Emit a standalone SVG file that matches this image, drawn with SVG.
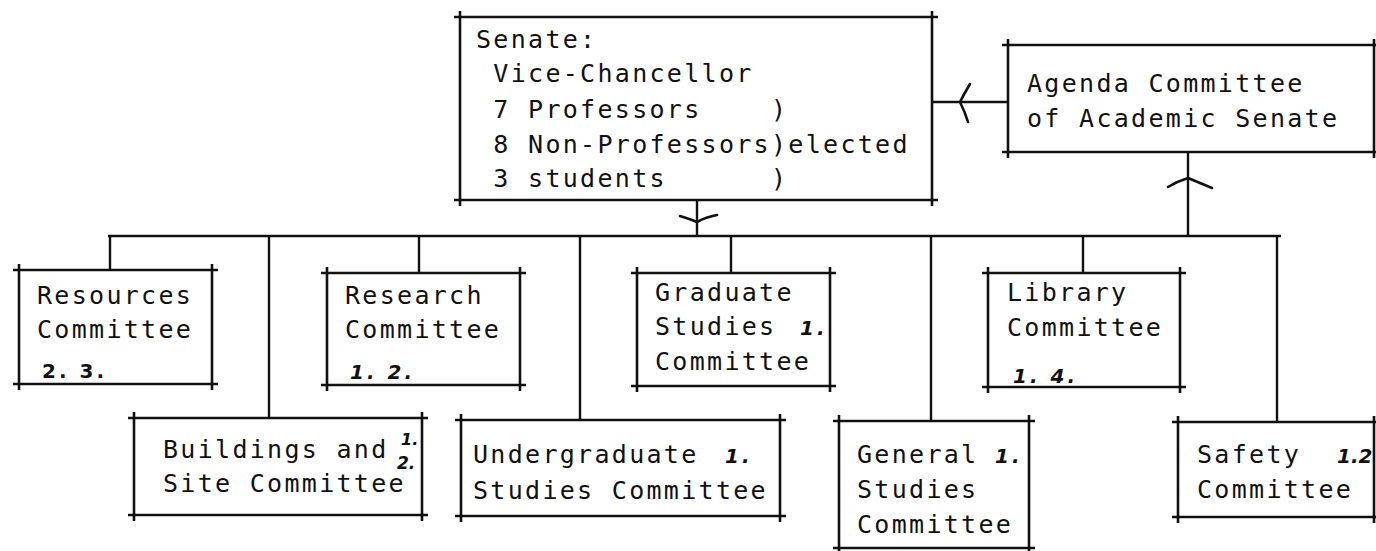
<svg xmlns="http://www.w3.org/2000/svg" width="1376" height="551" viewBox="0 0 1376 551">
<style>
.box{fill:none;stroke:#111;stroke-width:2.6}
.ln{fill:none;stroke:#111;stroke-width:2.4}
.ah{fill:none;stroke:#111;stroke-width:2.6;stroke-linecap:round}
.t{font-family:"DejaVu Sans Mono",monospace;font-size:25px;letter-spacing:2.3px;fill:#111;white-space:pre}
.hw{font-family:"DejaVu Sans",sans-serif;font-size:20px;font-weight:bold;font-style:italic;letter-spacing:3px;fill:#111;white-space:pre}
</style>
<rect width="1376" height="551" fill="#fff"/>
<g id="connectors">
<path class="ln" d="M108 236 H1281"/>
<path class="ln" d="M110 236 V270 M269 236 V418 M419 236 V273 M580 236 V420 M731 236 V273 M931 236 V421 M1083 236 V273 M1277 236 V422"/>
<path class="ln" d="M697 200 V236"/>
<path class="ah" d="M680 216 Q690 219 697 222 Q706 217 717 215"/>
<path class="ln" d="M1188 236 V152"/>
<path class="ah" d="M1168 187 Q1178 181 1188 178 Q1200 183 1212 188"/>
<path class="ln" d="M932 102 H1008"/>
<path class="ah" d="M970 84 Q964 94 960 102 Q965 112 968 122"/>
</g>
<g id="senate">
<path class="box" d="M454 17 H938 M454 200 H938 M460 11 V206 M932 11 V206"/>
<text class="t" x="476" y="48">Senate:</text>
<text class="t" x="476" y="82"> Vice-Chancellor</text>
<text class="t" x="476" y="118"> 7 Professors    )</text>
<text class="t" x="476" y="153"> 8 Non-Professors)elected</text>
<text class="t" x="476" y="187"> 3 students      )</text>
</g>
<g id="agenda">
<path class="box" d="M1002 45 H1380 M1002 152 H1380 M1008 39 V158 M1374 39 V158"/>
<text class="t" x="1027" y="92">Agenda Committee</text>
<text class="t" x="1027" y="127">of Academic Senate</text>
</g>
<g id="resources">
<path class="box" d="M13 270 H218 M13 384 H218 M19 264 V390 M212 264 V390"/>
<text class="t" x="37" y="304">Resources</text>
<text class="t" x="37" y="338">Committee</text>
<text class="hw" x="42" y="378" style="font-style:normal">2. 3.</text>
</g>
<g id="research">
<path class="box" d="M321 273 H526 M321 385 H526 M327 267 V391 M520 267 V391"/>
<text class="t" x="345" y="304">Research</text>
<text class="t" x="345" y="338">Committee</text>
<text class="hw" x="350" y="379">1. 2.</text>
</g>
<g id="graduate">
<path class="box" d="M631 273 H836 M631 386 H836 M637 267 V392 M830 267 V392"/>
<text class="t" x="655" y="301">Graduate</text>
<text class="t" x="655" y="335">Studies</text>
<text class="t" x="655" y="370">Committee</text>
<text class="hw" x="800" y="335">1.</text>
</g>
<g id="library">
<path class="box" d="M982 273 H1186 M982 387 H1186 M988 267 V393 M1180 267 V393"/>
<text class="t" x="1007" y="301">Library</text>
<text class="t" x="1007" y="336">Committee</text>
<text class="hw" x="1013" y="383">1. 4.</text>
</g>
<g id="buildings">
<path class="box" d="M128 418 H428 M128 515 H428 M134 412 V521 M422 412 V521"/>
<text class="t" x="163" y="458">Buildings and</text>
<text class="t" x="163" y="492">Site Committee</text>
<text class="hw" x="401" y="445" style="font-size:16px;letter-spacing:0">1.</text>
<text class="hw" x="397" y="469" style="font-size:17px;letter-spacing:0">2.</text>
</g>
<g id="undergraduate">
<path class="box" d="M455 420 H786 M455 516 H786 M461 414 V522 M780 414 V522"/>
<text class="t" x="473" y="463">Undergraduate</text>
<text class="t" x="473" y="499">Studies Committee</text>
<text class="hw" x="725" y="463">1.</text>
</g>
<g id="general">
<path class="box" d="M833 421 H1035 M833 548 H1035 M839 415 V554 M1029 415 V554"/>
<text class="t" x="857" y="463">General</text>
<text class="t" x="857" y="498">Studies</text>
<text class="t" x="857" y="533">Committee</text>
<text class="hw" x="995" y="463">1.</text>
</g>
<g id="safety">
<path class="box" d="M1172 422 H1380 M1172 517 H1380 M1178 416 V523 M1374 416 V523"/>
<text class="t" x="1197" y="463">Safety</text>
<text class="t" x="1197" y="498">Committee</text>
<text class="hw" x="1337" y="463" style="letter-spacing:0">1.2</text>
</g>
</svg>
